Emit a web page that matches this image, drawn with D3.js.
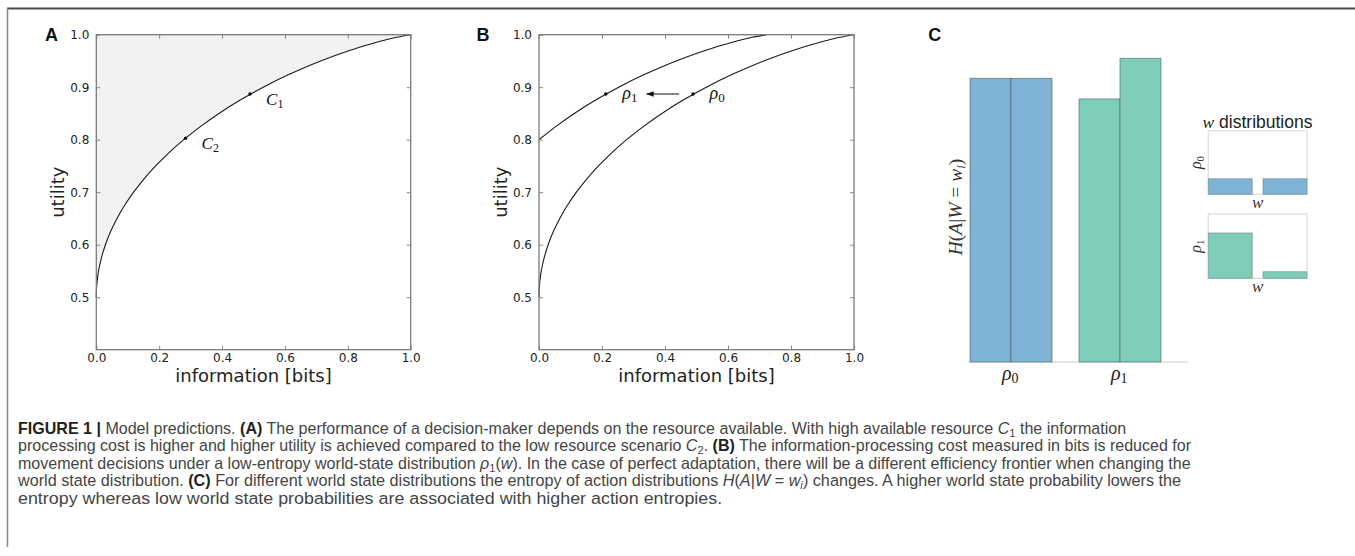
<!DOCTYPE html>
<html><head><meta charset="utf-8">
<script src="https://cdn.jsdelivr.net/npm/d3@7"></script>
<style>body{margin:0;background:#fff} svg{display:block}</style>
</head><body>
<svg id="chart" width="1355" height="556"></svg>
<script>
// ---------------- data ----------------
// efficiency frontier, uniform world-state distribution rho0: [information bits, utility]
const frontierRho0 = [[0,0.5],[0.00029,0.51],[0.00115,0.52],[0.0026,0.53],[0.00722,0.55],[0.01629,0.575],[0.02905,0.6],[0.04557,0.625],[0.06593,0.65],[0.09026,0.675],[0.11871,0.7],[0.15145,0.725],[0.18872,0.75],[0.23081,0.775],[0.27807,0.8],[0.33098,0.825],[0.39016,0.85],[0.45644,0.875],[0.531,0.9],[0.61569,0.925],[0.7136,0.95],[0.80561,0.97],[0.85856,0.98],[0.9192,0.99],[0.95459,0.995],[1,1]];
// efficiency frontier, low-entropy world-state distribution rho1
const frontierRho1 = [[0,0.8],[0.05291,0.825],[0.11209,0.85],[0.17836,0.875],[0.25293,0.9],[0.33762,0.925],[0.43553,0.95],[0.52754,0.97],[0.58049,0.98],[0.64113,0.99],[0.67651,0.995],[0.72193,1]];
const pointsA = [{name:"C", sub:"1", info:0.489, util:0.887},{name:"C", sub:"2", info:0.284, util:0.803}];
const pointsB = [{name:"ρ", sub:"1", info:0.212, util:0.887},{name:"ρ", sub:"0", info:0.489, util:0.887}];
const arrowB = {from:0.445, to:0.342, util:0.887};
const xTicks = [0,0.2,0.4,0.6,0.8,1.0];
const yTicks = [0.5,0.6,0.7,0.8,0.9,1.0];
const xDomain = [0,1];
const yDomain = [0.4,1.0];
// panel C
const groups = ["0","1"];               // rho_0, rho_1
const entropyRho0 = [0.881,0.881];      // H(A|W=w_i)
const entropyRho1 = [0.817,0.943];
const worldDistRho0 = [0.245,0.245];    // w distributions (inset heights)
const worldDistRho1 = [0.705,0.103];

// ---------------- setup ----------------
const svg = d3.select("#chart");
const serif = "'Liberation Serif','DejaVu Serif',serif";
const sans = "'DejaVu Sans',sans-serif";
const arial = "'Liberation Sans',Arial,sans-serif";

// outer frame
svg.append("line").attr("x1",7).attr("x2",1355).attr("y1",8.5).attr("y2",8.5).attr("stroke","#4a4a4a").attr("stroke-width",2);
svg.append("line").attr("x1",7.5).attr("x2",7.5).attr("y1",8).attr("y2",547).attr("stroke","#8a8a8a").attr("stroke-width",1.5);

function richText(t, segs, base) {
  let shift = 0;
  segs.forEach(([txt, st]) => {
    const tok = st.split(" ").filter(Boolean);
    const ts = t.append("tspan").text(txt);
    const isSub = tok.includes("sub");
    const want = isSub ? base.subShift : 0;
    if (want !== shift) { ts.attr("dy", want - shift); shift = want; }
    if (tok.includes("i")) ts.attr("font-style","italic").attr("font-family", base.italicFamily || null);
    if (tok.includes("b")) ts.attr("font-weight","bold").attr("fill", base.boldFill || null);
    if (isSub) ts.attr("font-size", base.subSize);
  });
  return t;
}

function framePanel(g, x, y, curves, fillCurve) {
  const line = d3.line().x(d => x(d[0])).y(d => y(d[1])).curve(d3.curveMonotoneY);
  if (fillCurve) {
    g.append("path").attr("d", line(fillCurve) + `L${x(0)},${y(1)}Z`).attr("fill","#f2f2f2").attr("stroke","none");
  }
  curves.forEach(c => g.append("path").attr("d", line(c)).attr("fill","none").attr("stroke","#1a1a1a").attr("stroke-width",1.1));
  const ax = (a) => a.tickSizeInner(-4).tickSizeOuter(0);
  const gb = g.append("g").attr("transform",`translate(0,${y.range()[0]})`)
    .call(ax(d3.axisBottom(x).tickValues(xTicks).tickFormat(d3.format(".1f")).tickPadding(4)));
  const gl = g.append("g").attr("transform",`translate(${x.range()[0]},0)`)
    .call(ax(d3.axisLeft(y).tickValues(yTicks).tickFormat(d3.format(".1f")).tickPadding(7)));
  const gt = g.append("g").attr("transform",`translate(0,${y.range()[1]})`)
    .call(ax(d3.axisTop(x).tickValues(xTicks).tickFormat("")));
  const gr = g.append("g").attr("transform",`translate(${x.range()[1]},0)`)
    .call(ax(d3.axisRight(y).tickValues(yTicks).tickFormat("")));
  [gb,gl,gt,gr].forEach(a => {
    a.attr("font-size",null).attr("font-family",null);
    a.select(".domain").remove();
    a.selectAll(".tick line").attr("stroke","#888");
    a.selectAll("text").attr("font-family",sans).attr("font-size",12).attr("fill","#222");
  });
  g.append("rect").attr("x",x.range()[0]).attr("y",y.range()[1])
    .attr("width",x.range()[1]-x.range()[0]).attr("height",y.range()[0]-y.range()[1])
    .attr("fill","none").attr("stroke","#7a7a7a").attr("stroke-width",1.3);
  g.append("text").attr("x",(x.range()[0]+x.range()[1])/2).attr("y",y.range()[0]+32)
    .attr("text-anchor","middle").attr("font-family",sans).attr("font-size",18).attr("fill","#222")
    .text("information [bits]");
  g.append("text").attr("transform",`translate(${x.range()[0]-32},${(y.range()[0]+y.range()[1])/2}) rotate(-90)`)
    .attr("text-anchor","middle").attr("font-family",sans).attr("font-size",18).attr("fill","#222")
    .text("utility");
}

function panelLetter(x, y, s) {
  svg.append("text").attr("x",x).attr("y",y).attr("font-family",arial).attr("font-weight","bold")
    .attr("font-size",18).attr("fill","#111").text(s);
}

// ---------------- panel A ----------------
const gA = svg.append("g");
const xA = d3.scaleLinear().domain(xDomain).range([96.3,410.7]);
const yA = d3.scaleLinear().domain(yDomain).range([349.7,34.7]);
framePanel(gA, xA, yA, [frontierRho0], frontierRho0);
pointsA.forEach(p => {
  gA.append("circle").attr("cx",xA(p.info)).attr("cy",yA(p.util)).attr("r",1.7).attr("fill","#000");
  richText(gA.append("text").attr("x",xA(p.info)+16).attr("y",yA(p.util)+11)
    .attr("font-family",serif).attr("font-size",17).attr("fill","#111"),
    [[p.name,"i"],[p.sub,"sub"]], {subShift:3, subSize:12});
});
panelLetter(45,41,"A");

// ---------------- panel B ----------------
const gB = svg.append("g");
const xB = d3.scaleLinear().domain(xDomain).range([539,854]);
const yB = d3.scaleLinear().domain(yDomain).range([349.7,34.7]);
framePanel(gB, xB, yB, [frontierRho0, frontierRho1], null);
pointsB.forEach(p => {
  gB.append("circle").attr("cx",xB(p.info)).attr("cy",yB(p.util)).attr("r",1.7).attr("fill","#000");
  richText(gB.append("text").attr("x",xB(p.info)+16.5).attr("y",yB(p.util)+5)
    .attr("font-family",serif).attr("font-size",18).attr("fill","#111"),
    [[p.name,"i"],[p.sub,"sub"]], {subShift:3, subSize:13});
});
svg.append("defs").append("marker").attr("id","ah").attr("viewBox","0 0 10 10").attr("refX",9).attr("refY",5)
  .attr("markerWidth",7).attr("markerHeight",7).attr("orient","auto-start-reverse")
  .append("path").attr("d","M0,1.5 L10,5 L0,8.5 Z").attr("fill","#111");
gB.append("line").attr("x1",xB(arrowB.from)).attr("x2",xB(arrowB.to)).attr("y1",yB(arrowB.util)).attr("y2",yB(arrowB.util))
  .attr("stroke","#111").attr("stroke-width",1.1).attr("marker-end","url(#ah)");
panelLetter(476.5,41,"B");

// ---------------- panel C ----------------
const gC = svg.append("g");
const xC = d3.scaleBand().domain(groups).range([970,1161]).paddingInner(0.2477).paddingOuter(0);
const xSub = d3.scaleBand().domain([0,1]).range([0,xC.bandwidth()]);
const yC = d3.scaleLinear().domain([0,1]).range([362,40]);
const colors = {"0":"#7eb3d6","1":"#7ecdb8"};
const entropies = {"0":entropyRho0,"1":entropyRho1};
gC.append("line").attr("x1",xC.range()[0]-1.5).attr("x2",xC.range()[1]+xC.step()*xC.paddingInner())
  .attr("y1",yC(0)).attr("y2",yC(0)).attr("stroke","#dcdcdc").attr("stroke-width",1.5);
groups.forEach(gname => {
  entropies[gname].forEach((v,i) => {
    gC.append("rect").attr("x",xC(gname)+xSub(i)).attr("y",yC(v))
      .attr("width",xSub.bandwidth()).attr("height",yC(0)-yC(v))
      .attr("fill",colors[gname]).attr("stroke","#4d5f66").attr("stroke-opacity",0.6).attr("stroke-width",1);
  });
  richText(gC.append("text").attr("x",xC(gname)+xC.bandwidth()/2-9).attr("y",380)
    .attr("font-family",serif).attr("font-size",20).attr("fill","#222"),
    [["ρ","i"],[gname,"sub"]], {subShift:3, subSize:14});
});
richText(gC.append("text").attr("transform","translate(962,207) rotate(-90)").attr("text-anchor","middle")
  .attr("font-family",serif).attr("font-size",19.5).attr("fill","#333"),
  [["H","i"],["(",""],["A","i"],["|",""],["W","i"],[" = ",""],["w","i"],["i","i sub"],[")",""]], {subShift:3, subSize:13});

// insets
const xIn = d3.scaleBand().domain([0,1]).range([1208.3,1307]).paddingInner(0.196).paddingOuter(0);
const insets = [
  {dist:worldDistRho0, color:colors["0"], y:d3.scaleLinear().domain([0,1]).range([194.3,130.7]), name:"0"},
  {dist:worldDistRho1, color:colors["1"], y:d3.scaleLinear().domain([0,1]).range([278.3,214]), name:"1"}
];
insets.forEach(ins => {
  const y = ins.y;
  gC.append("rect").attr("x",xIn.range()[0]).attr("y",y.range()[1]).attr("width",xIn.range()[1]-xIn.range()[0])
    .attr("height",y.range()[0]-y.range()[1]).attr("fill","none").attr("stroke","#dedede").attr("stroke-width",1.3);
  ins.dist.forEach((v,i) => {
    gC.append("rect").attr("x",xIn(i)).attr("y",y(v)).attr("width",xIn.bandwidth()).attr("height",y(0)-y(v))
      .attr("fill",ins.color).attr("stroke","#6b7b80").attr("stroke-opacity",0.5).attr("stroke-width",1);
  });
  const cx = (xIn.range()[0]+xIn.range()[1])/2;
  gC.append("text").attr("x",cx).attr("y",y(0)+14).attr("text-anchor","middle")
    .attr("font-family",serif).attr("font-style","italic").attr("font-size",17).attr("fill","#333").text("w");
  richText(gC.append("text").attr("transform",`translate(${xIn.range()[0]-7},${(y.range()[0]+y.range()[1])/2}) rotate(-90)`)
    .attr("text-anchor","middle").attr("font-family",serif).attr("font-size",16).attr("fill","#333"),
    [["ρ","i"],[ins.name,"sub"]], {subShift:2.5, subSize:11});
});
richText(gC.append("text").attr("x",1257.5).attr("y",127.5).attr("text-anchor","middle")
  .attr("font-family",arial).attr("font-size",17.5).attr("fill","#222"),
  [["w","i"],[" distributions",""]], {italicFamily:serif, subShift:0, subSize:12});
panelLetter(928.3,41,"C");

// ---------------- caption ----------------
const captionLines = [
  [["FIGURE 1 | ","b"],["Model predictions. ",""],["(A)","b"],[" The performance of a decision-maker depends on the resource available. With high available resource ",""],["C","i"],["1","sub"],["  the information",""]],
  [["processing cost is higher and higher utility is achieved compared to the low resource scenario ",""],["C","i"],["2","sub"],[". ",""],["(B)","b"],[" The information-processing cost measured in bits is reduced for",""]],
  [["movement decisions under a low-entropy world-state distribution ",""],["ρ","i"],["1","sub"],["(",""],["w","i"],["). In the case of perfect adaptation, there will be a different efficiency frontier when changing the",""]],
  [["world state distribution. ",""],["(C)","b"],[" For different world state distributions the entropy of action distributions ",""],["H","i"],["(",""],["A","i"],["|",""],["W","i"],[" = ",""],["w","i"],["i","i sub"],[") changes. A higher world state probability lowers the",""]],
  [["entropy whereas low world state probabilities are associated with higher action entropies.",""]]
];
const captionEnds = [1127, 1192, 1192, 1182, 723];
const capX = 18, capY0 = 433.5, capStep = 17.5;
captionLines.forEach((segs, k) => {
  const t = svg.append("text").attr("x",0).attr("y",0)
    .attr("font-family","'Liberation Sans Narrow','Liberation Sans',Arial,sans-serif")
    .attr("font-size",16.5).attr("fill","#444");
  richText(t, segs, {subShift:3, subSize:11.5, boldFill:"#222"});
  const w = t.node().getComputedTextLength();
  const sx = (captionEnds[k]-capX)/w;
  t.attr("transform",`translate(${capX},${capY0+k*capStep}) scale(${sx},1)`);
});
</script>
</body></html>
